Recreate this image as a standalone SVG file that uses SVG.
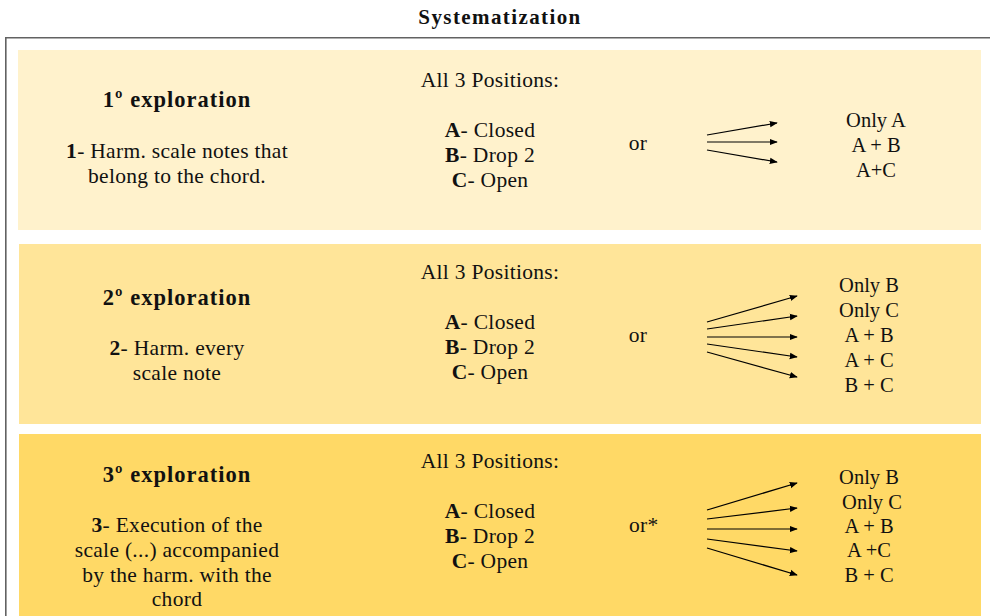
<svg xmlns="http://www.w3.org/2000/svg" width="990" height="616" viewBox="0 0 990 616">
<defs>
<style>
.g{font-family:"Liberation Serif","Times New Roman",serif;font-size:21.5px;letter-spacing:0.3px;fill:#111}
.gb{font-family:"Liberation Serif","Times New Roman",serif;font-size:22.5px;font-weight:bold;letter-spacing:1px;fill:#111}
.hd{font-family:"Liberation Serif","Times New Roman",serif;font-size:21px;font-weight:bold;letter-spacing:1.4px;fill:#111}
.t{font-family:"Liberation Serif","Times New Roman",serif;font-size:20.5px;fill:#111}
.m{text-anchor:middle}
.b{font-weight:bold}
.arr{stroke:#000;stroke-width:1.2;fill:none;marker-end:url(#ah)}
</style>
<marker id="ah" viewBox="0 0 10 10" refX="9" refY="5" markerWidth="8" markerHeight="8" markerUnits="userSpaceOnUse" orient="auto">
<path d="M0,1 L10,5 L0,9 Z" fill="#000"/>
</marker>
</defs>
<rect width="990" height="616" fill="#fff"/>
<g id="frame">
<text class="hd m" x="500" y="24">Systematization</text>
<path d="M5.8,616 V37.8 H990" fill="none" stroke="#626262" stroke-width="1.6"/>
</g>
<g id="panel1">
<rect x="18" y="50" width="963" height="180" fill="#fff2cc"/>
<text class="gb m" x="177" y="107">1º exploration</text>
<text class="g m" x="177" y="158"><tspan class="b">1</tspan>- Harm. scale notes that</text>
<text class="g m" x="177" y="183">belong to the chord.</text>
<text class="g m" x="490" y="87">All 3 Positions:</text>
<text class="g m" x="490" y="137"><tspan class="b">A</tspan>- Closed</text>
<text class="g m" x="490" y="162"><tspan class="b">B</tspan>- Drop 2</text>
<text class="g m" x="490" y="187"><tspan class="b">C</tspan>- Open</text>
<text class="g m" x="638" y="150">or</text>
<text class="t m" x="876" y="127">Only A</text>
<text class="t m" x="876" y="152">A + B</text>
<text class="t m" x="876" y="177">A+C</text>
</g>
<g id="panel2">
<rect x="19" y="244" width="962" height="180" fill="#ffe599"/>
<text class="gb m" x="177" y="305">2º exploration</text>
<text class="g m" x="177" y="355"><tspan class="b">2</tspan>- Harm. every</text>
<text class="g m" x="177" y="380">scale note</text>
<text class="g m" x="490" y="279">All 3 Positions:</text>
<text class="g m" x="490" y="329"><tspan class="b">A</tspan>- Closed</text>
<text class="g m" x="490" y="354"><tspan class="b">B</tspan>- Drop 2</text>
<text class="g m" x="490" y="379"><tspan class="b">C</tspan>- Open</text>
<text class="g m" x="638" y="342">or</text>
<text class="t m" x="869" y="292">Only B</text>
<text class="t m" x="869" y="317">Only C</text>
<text class="t m" x="869" y="342">A + B</text>
<text class="t m" x="869" y="367">A + C</text>
<text class="t m" x="869" y="392">B + C</text>
</g>
<g id="panel3">
<rect x="19" y="434" width="962" height="182" fill="#ffd966"/>
<text class="gb m" x="177" y="482">3º exploration</text>
<text class="g m" x="177" y="532"><tspan class="b">3</tspan>- Execution of the</text>
<text class="g m" x="177" y="557">scale (...) accompanied</text>
<text class="g m" x="177" y="582">by the harm. with the</text>
<text class="g m" x="177" y="606">chord</text>
<text class="g m" x="490" y="468">All 3 Positions:</text>
<text class="g m" x="490" y="518"><tspan class="b">A</tspan>- Closed</text>
<text class="g m" x="490" y="543"><tspan class="b">B</tspan>- Drop 2</text>
<text class="g m" x="490" y="568"><tspan class="b">C</tspan>- Open</text>
<text class="g" x="629" y="532">or*</text>
<text class="t m" x="869" y="484">Only B</text>
<text class="t m" x="872" y="509">Only C</text>
<text class="t m" x="869" y="533">A + B</text>
<text class="t m" x="869" y="557">A +C</text>
<text class="t m" x="869" y="582">B + C</text>
</g>
<g id="connectors">
<line class="arr" x1="707" y1="135" x2="777" y2="123"/>
<line class="arr" x1="707" y1="142" x2="777" y2="142"/>
<line class="arr" x1="707" y1="150" x2="777" y2="162"/>
<line class="arr" x1="707" y1="322" x2="797" y2="296"/>
<line class="arr" x1="707" y1="329" x2="797" y2="316"/>
<line class="arr" x1="707" y1="337" x2="797" y2="337"/>
<line class="arr" x1="707" y1="344" x2="797" y2="357"/>
<line class="arr" x1="707" y1="352" x2="797" y2="377"/>
<line class="arr" x1="707" y1="510" x2="797" y2="483"/>
<line class="arr" x1="707" y1="519" x2="797" y2="508"/>
<line class="arr" x1="707" y1="529" x2="797" y2="529"/>
<line class="arr" x1="707" y1="539" x2="797" y2="551"/>
<line class="arr" x1="707" y1="548" x2="797" y2="575"/>
</g>
</svg>
